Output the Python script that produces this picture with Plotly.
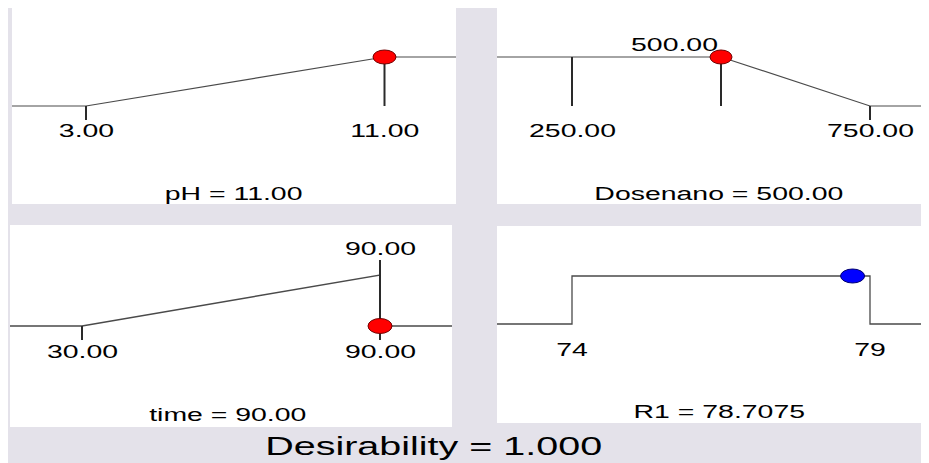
import plotly.graph_objects as go

# ---------------- data ----------------
ph_limits = [3.0, 11.0]
ph_value = 11.0
ph_ramp_x = [3.0, 11.0]
ph_ramp_d = [0.0, 1.0]

dose_limits = [250.0, 750.0]
dose_value = 500.0
dose_ramp_x = [500.0, 750.0]
dose_ramp_d = [1.0, 0.0]

time_limits = [30.0, 90.0]
time_value = 90.0
time_ramp_x = [30.0, 90.0, 90.0]
time_ramp_d = [0.0, 1.0, 0.0]
time_value_d = 0.0

r1_limits = [74.0, 79.0]
r1_value = 78.7075
r1_ramp_x = [74.0, 74.0, 79.0, 79.0]
r1_ramp_d = [0.0, 1.0, 1.0, 0.0]

desirability = 1.000

ph_tick_labels = ["3.00", "11.00"]
dose_tick_labels = ["250.00", "750.00"]
time_tick_labels = ["30.00", "90.00"]
r1_tick_labels = ["74", "79"]

# ---------------- layout constants (page pixels) ----------------
PAGE_W, PAGE_H = 929, 463
OX, OY = 8, 8                      # browser body margin
W, H = PAGE_W - OX, PAGE_H - OY    # figure size
GRAY = "#e4e2ea"
LINE = "#4a4a4a"
TICK = "#2a2a2a"
FONT = "Liberation Sans, Arial, sans-serif"
TICK_PX = 14


def fx(px):
    return (px - OX) / W


def fy(py):
    return 1 - (py - OY) / H


def lin_range(va, pa, vb, pb, plo, phi):
    s = (pb - pa) / (vb - va)
    return [va + (plo - pa) / s, va + (phi - pa) / s]


# panel: box (x0,x1,y0,y1) in page px, x calibration, y calibration (d0 px, d1 px)
panels = {
    "ph": dict(box=(12, 456, 8, 204), xc=(3.0, 86, 11.0, 384.5), yc=(106, 57)),
    "dose": dict(box=(497, 929, 8, 204), xc=(250.0, 572, 750.0, 870), yc=(106, 57)),
    "time": dict(box=(10, 452, 225, 427), xc=(30.0, 82, 90.0, 380), yc=(326, 275)),
    "r1": dict(box=(497, 929, 226, 423), xc=(74.0, 572, 79.0, 870), yc=(324, 276)),
}
axis_ids = {"ph": "", "dose": "2", "time": "3", "r1": "4"}

fig = go.Figure()
layout_axes = {}
for k, p in panels.items():
    x0, x1, y0, y1 = p["box"]
    va, pa, vb, pb = p["xc"]
    p["xr"] = lin_range(va, pa, vb, pb, x0, x1)
    d0, d1 = p["yc"]
    p["yr"] = lin_range(0.0, d0, 1.0, d1, y1, y0)
    p["dpx"] = d0 - d1
    aid = axis_ids[k]
    layout_axes["xaxis" + aid] = dict(domain=[fx(x0), min(1, fx(x1))], range=p["xr"], visible=False,
                                      fixedrange=True, anchor="y" + aid)
    layout_axes["yaxis" + aid] = dict(domain=[fy(y1), min(1, fy(y0))], range=p["yr"], visible=False,
                                      fixedrange=True, anchor="x" + aid)


def ax(k):
    a = axis_ids[k]
    return "x" + a, "y" + a


def add_curve(k, xs, ds, width=1.2):
    p = panels[k]
    xa, ya = ax(k)
    X = [p["xr"][0]] + list(xs) + [p["xr"][1]]
    D = [ds[0]] + list(ds) + [ds[-1]]
    fig.add_trace(go.Scatter(x=X, y=D, mode="lines", xaxis=xa, yaxis=ya,
                             line=dict(color=LINE, width=width), hoverinfo="skip", showlegend=False))


def add_vlines(k, segs, width=2):
    xa, ya = ax(k)
    X, D = [], []
    for x, da, db in segs:
        X += [x, x, None]
        D += [da, db, None]
    fig.add_trace(go.Scatter(x=X, y=D, mode="lines", xaxis=xa, yaxis=ya,
                             line=dict(color=TICK, width=width), hoverinfo="skip", showlegend=False))


def tick_d(k):
    return TICK_PX / panels[k]["dpx"]


# curves
add_curve("ph", ph_ramp_x, ph_ramp_d)
add_curve("dose", dose_ramp_x, dose_ramp_d)
add_curve("time", time_ramp_x, time_ramp_d, width=1.4)
add_curve("r1", r1_ramp_x, r1_ramp_d, width=1.3)

# ticks / value lines
add_vlines("ph", [(ph_limits[0], 0, -tick_d("ph")), (ph_value, 1, 0)])
add_vlines("dose", [(dose_limits[0], 1, 0), (dose_limits[1], 0, -tick_d("dose")), (dose_value, 1, 0)])
add_vlines("time", [(time_limits[0], 0, -tick_d("time")),
                    (time_value, 1 + 15 / panels["time"]["dpx"], -tick_d("time"))])


# dots
def add_dot(k, x, d, color, edge, w=12, h=7):
    xa, ya = ax(k)
    fig.add_shape(type="circle", xref=xa, yref=ya, xsizemode="pixel", ysizemode="pixel",
                  xanchor=x, yanchor=d, x0=-w, x1=w, y0=-h, y1=h,
                  fillcolor=color, line=dict(color=edge, width=1), layer="above")


add_dot("ph", ph_value, 1.0, "#ff0000", "#700000", 11.5, 7)
add_dot("dose", dose_value, 1.0, "#ff0000", "#700000", 11, 7)
add_dot("time", time_value, time_value_d, "#ff0000", "#700000", 12, 7.5)
add_dot("r1", r1_value, 1.0, "#0000ff", "#000070", 12, 7)


# labels
def label(k, x, text, ypx, xshift=0, size=18):
    xa, ya = ax(k)
    d0 = panels[k]["yc"][0]
    fig.add_annotation(x=x, y=0, xref=xa, yref=ya, text=text, showarrow=False,
                       xanchor="center", yanchor="middle", yshift=d0 - ypx, xshift=xshift,
                       font=dict(family=FONT, size=size, color="#000"))


for v, t in zip(ph_limits, ph_tick_labels):
    label("ph", v, t, 130.5)
for v, t in zip(dose_limits, dose_tick_labels):
    label("dose", v, t, 130.5)
label("dose", dose_value, "%.2f" % dose_value, 45, xshift=-47)
for v, t in zip(time_limits, time_tick_labels):
    label("time", v, t, 351.5)
label("time", time_value, "%.2f" % time_value, 248.5)
for v, t in zip(r1_limits, r1_tick_labels):
    label("r1", v, t, 350)


def title(text, xpx, ypx, size=18):
    fig.add_annotation(x=fx(xpx), y=fy(ypx), xref="paper", yref="paper", text=text, showarrow=False,
                       xanchor="center", yanchor="middle",
                       font=dict(family=FONT, size=size, color="#000"))


title("pH = %.2f" % ph_value, 233, 193.5)
title("Dosenano = %.2f" % dose_value, 719, 193.5)
title("time = %.2f" % time_value, 228, 415)
title("R1 = %.4f" % r1_value, 719, 412)
title("Desirability = %.3f" % desirability, 433, 446, size=25)

# white panels on gray background
for k, p in panels.items():
    x0, x1, y0, y1 = p["box"]
    fig.add_shape(type="rect", xref="paper", yref="paper", x0=fx(x0), x1=min(1, fx(x1)),
                  y0=fy(y1), y1=min(1, fy(y0)), fillcolor="white", line=dict(width=0), layer="below")

fig.update_layout(width=W, height=H, margin=dict(l=0, r=0, t=0, b=0),
                  paper_bgcolor=GRAY, plot_bgcolor="rgba(0,0,0,0)", showlegend=False,
                  **layout_axes)

css_js = ("var s=document.createElement('style');"
          "s.textContent='.annotation-text{transform-box:fill-box;transform-origin:center;"
          "transform:scaleX(1.58);}';document.head.appendChild(s);")

fig.write_html("out.html", post_script=css_js, config={"displayModeBar": False})
